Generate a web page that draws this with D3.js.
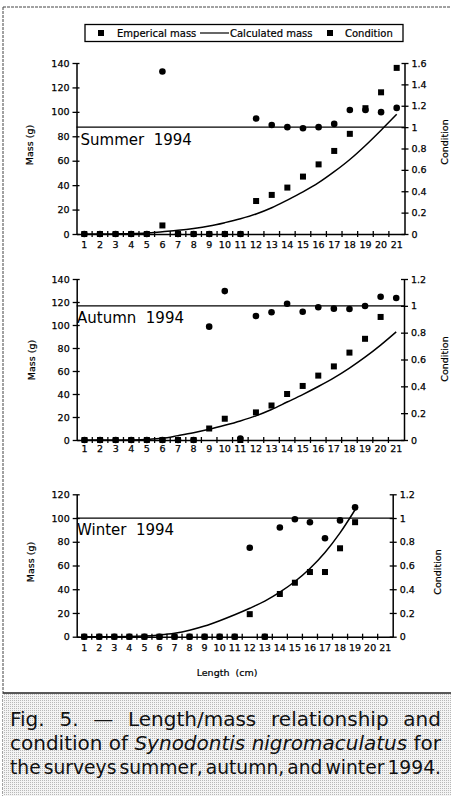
<!DOCTYPE html>
<html>
<head>
<meta charset="utf-8">
<script src="https://cdn.jsdelivr.net/npm/d3@7"></script>
<style>
  html, body { margin: 0; padding: 0; background: #fff; }
  svg { display: block; }
  .tick text { font-family: "DejaVu Sans", sans-serif; font-size: 9.5px; fill: #000; stroke: #000; stroke-width: 0.25px; }
</style>
</head>
<body>
<svg id="chart" width="451" height="796"></svg>
<script>
// ---------------- DATA ----------------
const lengths = [1,2,3,4,5,6,7,8,9,10,11,12,13,14,15,16,17,18,19,20,21];

const summerMass = [0,0,0,0,0,7,0,0,0,0,0,27,32,38,47,57,68,82,103,116,136];
const summerCalc = [0,0,0.1,0.3,0.8,1.9,3,4.5,6.5,9.3,12.5,16.4,21.5,27.8,34.5,42,51,61,72.5,85,98];
const summerCond = [0,0,0,0,0,1.52,0,0,0,0,0,1.08,1.02,1.0,0.99,1.0,1.03,1.16,1.16,1.14,1.18];

const autumnMass = [0,0,0,0,0,0,0,0,10,18.5,0,24,30,40,47,56,64,76,88,107,null];
const autumnCalc = [0,0,0,0.1,0.5,1.5,3.8,6.3,9.3,12.8,16.6,21,26.5,33,39.5,46.5,54,62.5,72,82.5,94];
const autumnCond = [0,0,0,0,0,0,0,0,0.845,1.11,0.01,0.924,0.952,1.016,0.956,0.989,0.979,0.976,0.999,1.068,1.058];

const winterMass = [0,0,0,0,0,0,0,0,0,0,0,19,0,36,45.5,54.5,54.5,74.5,96.5,null,null];
const winterCalc = [0,0,0,0.1,0.5,1.5,3,5.5,9,13.5,18.5,24,30,37.5,46.5,57.5,71,87.5,107,null,null];
const winterCond = [0,0,0,0,0,0,0,0,0,0,0,0.75,0,0.92,0.99,0.965,0.83,0.98,1.09,null,null];

const massTicks140 = [0,20,40,60,80,100,120,140];
const massTicks120 = [0,20,40,60,80,100,120];
const condTicks16 = [0,0.2,0.4,0.6,0.8,1,1.2,1.4,1.6];
const condTicks12 = [0,0.2,0.4,0.6,0.8,1,1.2];

const seasonLabels = ["Summer  1994", "Autumn  1994", "Winter  1994"];
const legendLabels = ["Emperical mass", "Calculated mass", "Condition"];
const xTitle = "Length  (cm)";
const yTitleLeft = "Mass (g)";
const yTitleRight = "Condition";

const captionLines = [
  [["Fig.",0],["5.",0],["—",0],["Length/mass",0],["relationship",0],["and",0]],
  [["condition",0],["of",0],["Synodontis",1],["nigromaculatus",1],["for",0]],
  [["the",0],["surveys",0],["summer,",0],["autumn,",0],["and",0],["winter",0],["1994.",0]]
];

// ---------------- LAYOUT ----------------
const svg = d3.select("#chart");
const FONT = "'DejaVu Sans', sans-serif";

// caption background pattern (halftone)
const defs = svg.append("defs");
const pat = defs.append("pattern").attr("id","halftone").attr("width",2).attr("height",2)
  .attr("patternUnits","userSpaceOnUse");
pat.append("rect").attr("width",2).attr("height",2).attr("fill","#f4f4f4");
pat.append("rect").attr("width",1).attr("height",1).attr("fill","#b8b8b8");

// frame
svg.append("line").attr("x1",3).attr("x2",451).attr("y1",7).attr("y2",7)
  .attr("stroke","#444").attr("stroke-width",1).attr("stroke-dasharray","3,1");
svg.append("line").attr("x1",3).attr("x2",3).attr("y1",7).attr("y2",796)
  .attr("stroke","#444").attr("stroke-width",1).attr("stroke-dasharray","3,1");

// legend
const lg = svg.append("g");
lg.append("rect").attr("x",85).attr("y",24.5).attr("width",318).attr("height",17)
  .attr("fill","#fff").attr("stroke","#000").attr("stroke-width",1.3);
lg.append("rect").attr("x",98).attr("y",30).attr("width",6).attr("height",6).attr("fill","#000");
lg.append("text").attr("x",117).attr("y",36.7).text(legendLabels[0])
  .attr("font-family",FONT).attr("font-size","10px").attr("stroke","#000").attr("stroke-width",0.2);
lg.append("line").attr("x1",200).attr("x2",229).attr("y1",33).attr("y2",33)
  .attr("stroke","#000").attr("stroke-width",1.2);
lg.append("text").attr("x",230).attr("y",36.7).text(legendLabels[1])
  .attr("font-family",FONT).attr("font-size","10px").attr("stroke","#000").attr("stroke-width",0.2);
lg.append("rect").attr("x",327).attr("y",30).attr("width",6).attr("height",6).attr("fill","#000");
lg.append("text").attr("x",345).attr("y",36.7).text(legendLabels[2])
  .attr("font-family",FONT).attr("font-size","10px").attr("stroke","#000").attr("stroke-width",0.2);

const panels = [
  { mass: summerMass, calc: summerCalc, cond: summerCond, massTicks: massTicks140, condTicks: condTicks16,
    massMax: 140, condMax: 1.6, left: 76.5, right: 404.5, top: 63, bottom: 234, labelPad: 14,
    season: seasonLabels[0], sx: 80.5, sy: 145, mTitle: [30, 145], cTitle: [445, 142] },
  { mass: autumnMass, calc: autumnCalc, cond: autumnCond, massTicks: massTicks140, condTicks: condTicks12,
    massMax: 140, condMax: 1.2, left: 76.7, right: 404, top: 279, bottom: 440, labelPad: 12,
    season: seasonLabels[1], sx: 77, sy: 323, mTitle: [31.5, 360], cTitle: [445, 359] },
  { mass: winterMass, calc: winterCalc, cond: winterCond, massTicks: massTicks120, condTicks: condTicks12,
    massMax: 120, condMax: 1.2, left: 76.7, right: 392.7, top: 494.3, bottom: 636.7, labelPad: 14,
    season: seasonLabels[2], sx: 77, sy: 534.5, mTitle: [31, 562], cTitle: [438, 572], xTitle: true }
];

panels.forEach(p => {
  const g = svg.append("g");
  const x = d3.scaleBand().domain(lengths).range([p.left, p.right]).paddingInner(0).paddingOuter(0);
  const cx = d => x(d) + x.bandwidth() / 2;
  const yM = d3.scaleLinear().domain([0, p.massMax]).range([p.bottom, p.top]);
  const yC = d3.scaleLinear().domain([0, p.condMax]).range([p.bottom, p.top]);

  // left axis
  const la = g.append("g").attr("transform", `translate(${p.left},0)`)
    .call(d3.axisLeft(yM).tickValues(p.massTicks).tickSize(4).tickSizeOuter(0).tickPadding(3).tickFormat(d3.format("d")));
  la.selectAll(".tick line").attr("x1", 3).attr("stroke-width", 1.3);
  la.select(".domain").attr("stroke-width", 1.5);

  // right axis
  const ra = g.append("g").attr("transform", `translate(${p.right},0)`)
    .call(d3.axisRight(yC).tickValues(p.condTicks).tickSize(4).tickSizeOuter(0).tickPadding(3).tickFormat(d3.format("")));
  ra.selectAll(".tick line").attr("x1", -3).attr("stroke-width", 1.3);
  ra.select(".domain").attr("stroke-width", 1.5);

  // bottom axis (labels at category centres)
  const ba = g.append("g").attr("transform", `translate(0,${p.bottom})`)
    .call(d3.axisBottom(x).tickSize(0).tickSizeOuter(0).tickPadding(p.labelPad));
  ba.select(".domain").attr("stroke-width", 1.5);
  ba.selectAll(".tick text").attr("dy", "0");
  // boundary ticks between categories
  g.append("g").selectAll("line").data(lengths.slice(1)).join("line")
    .attr("x1", d => x(d)).attr("x2", d => x(d))
    .attr("y1", p.bottom - 3).attr("y2", p.bottom + 3)
    .attr("stroke", "#000").attr("stroke-width", 1.3);

  // condition = 1 reference line
  g.append("line").attr("x1", p.left).attr("x2", p.right)
    .attr("y1", yC(1)).attr("y2", yC(1)).attr("stroke", "#000").attr("stroke-width", 1.3);

  // season label
  g.append("text").attr("x", p.sx).attr("y", p.sy).text(p.season)
    .attr("font-family", FONT).attr("font-size", "15px").attr("xml:space", "preserve")
    .style("white-space", "pre");

  // calculated mass line
  const calcData = lengths.map((l, i) => ({ l, v: p.calc[i] }));
  const line = d3.line().defined(d => d.v != null).x(d => cx(d.l)).y(d => yM(d.v)).curve(d3.curveMonotoneX);
  g.append("path").datum(calcData).attr("d", line).attr("fill", "none")
    .attr("stroke", "#000").attr("stroke-width", 1.5);

  // empirical mass squares
  const massData = lengths.map((l, i) => ({ l, v: p.mass[i] })).filter(d => d.v != null);
  g.append("g").selectAll("rect").data(massData).join("rect")
    .attr("x", d => cx(d.l) - 3).attr("y", d => yM(d.v) - 3)
    .attr("width", 6).attr("height", 6).attr("fill", "#000");

  // condition circles
  const condData = lengths.map((l, i) => ({ l, v: p.cond[i] })).filter(d => d.v != null);
  g.append("g").selectAll("circle").data(condData).join("circle")
    .attr("cx", d => cx(d.l)).attr("cy", d => yC(d.v)).attr("r", 3.3).attr("fill", "#000");

  // axis titles
  g.append("text").attr("transform", `translate(${p.mTitle[0]},${p.mTitle[1]}) rotate(-90)`)
    .attr("text-anchor", "middle").attr("dy", "0.35em").text(yTitleLeft)
    .attr("font-family", FONT).attr("font-size", "9.5px").attr("stroke", "#000").attr("stroke-width", 0.2);
  g.append("text").attr("transform", `translate(${p.cTitle[0]},${p.cTitle[1]}) rotate(-90)`)
    .attr("text-anchor", "middle").attr("dy", "0.35em").text(yTitleRight)
    .attr("font-family", FONT).attr("font-size", "9.5px").attr("stroke", "#000").attr("stroke-width", 0.2);
  if (p.xTitle) {
    g.append("text").attr("x", 227).attr("y", 676).attr("text-anchor", "middle")
      .text(xTitle).attr("font-family", FONT).attr("font-size", "9.5px")
      .attr("stroke", "#000").attr("stroke-width", 0.2)
      .attr("xml:space", "preserve").style("white-space", "pre");
  }
});

// ---------------- CAPTION ----------------
svg.append("rect").attr("x", 3).attr("y", 693).attr("width", 448).attr("height", 103).attr("fill", "url(#halftone)");
svg.append("line").attr("x1", 3).attr("x2", 451).attr("y1", 693).attr("y2", 693)
  .attr("stroke", "#222").attr("stroke-width", 1.3);

const capFont = "'DejaVu Sans', sans-serif";
const capX0 = 10, capX1 = 441;
const capBase = [726, 750, 774];
captionLines.forEach((words, li) => {
  const tg = svg.append("g");
  const nodes = words.map(([w, it]) => tg.append("text").text(w)
    .attr("y", capBase[li]).attr("font-family", capFont).attr("font-size", "20px")
    .attr("font-style", it ? "italic" : "normal").attr("fill", "#111"));
  const widths = nodes.map(n => n.node().getComputedTextLength());
  const sum = d3.sum(widths);
  const W = capX1 - capX0;
  const minGap = 3;
  let f = 1, gap = (W - sum) / (words.length - 1);
  if (gap < minGap) { f = (W - minGap * (words.length - 1)) / sum; gap = minGap; }
  let xpos = capX0;
  nodes.forEach((n, i) => {
    n.attr("x", xpos);
    if (f !== 1) n.attr("textLength", widths[i] * f).attr("lengthAdjust", "spacingAndGlyphs");
    xpos += widths[i] * f + gap;
  });
});
</script>
</body>
</html>
